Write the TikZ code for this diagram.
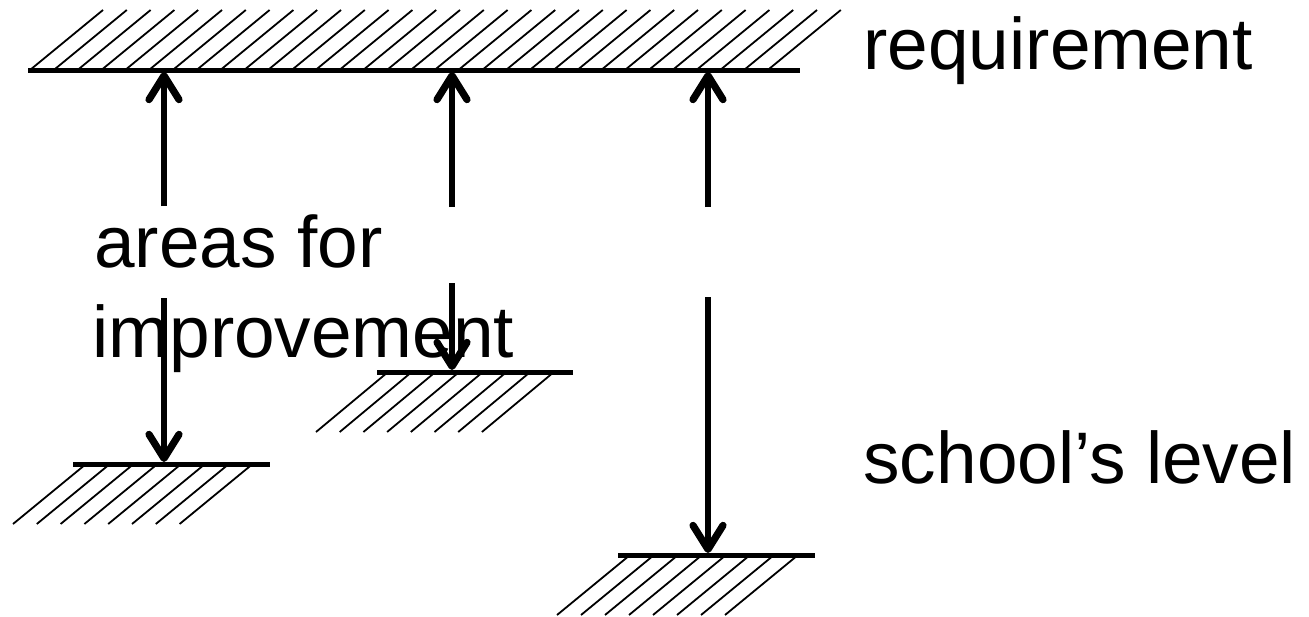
\documentclass[tikz,border=0pt]{standalone}
\usepackage{fontspec}
\setmainfont{Liberation Sans}
\usetikzlibrary{arrows.meta}

\tikzset{
  level/.style={line width=2.5pt},
  hatch/.style={line width=0.9pt},
  gauge/.style={line width=2.6pt, -{Straight Barb[length=12pt,width=15pt,round,line width=3.6pt 0 1]}},
  caption/.style={inner sep=0pt, anchor=base west, font=\fontsize{36.5pt}{45pt}\selectfont}
}

\begin{document}
\begin{tikzpicture}[x=0.5pt, y=-0.5pt]
  \useasboundingbox (0,0) rectangle (1309,616);

  % required level: long line with hatching above it
  \coordinate (reqL) at (28,70);
  \coordinate (reqR) at (800,70);
  \draw[level] (reqL) -- (reqR);
  \foreach \k in {0,...,31}
    \draw[hatch] (30+23.8*\k,70) -- ++(73,-60);

  % three school levels: short lines with hatching below them
  \coordinate (lvAL) at (73,464);  \coordinate (lvAR) at (270,464);
  \coordinate (lvBL) at (377,372); \coordinate (lvBR) at (573,372);
  \coordinate (lvCL) at (618,555); \coordinate (lvCR) at (815,555);
  \draw[level] (lvAL) -- (lvAR);
  \draw[level] (lvBL) -- (lvBR);
  \draw[level] (lvCL) -- (lvCR);
  \foreach \k in {0,...,7} {
    \draw[hatch] (86+23.8*\k,464)  -- ++(-73,60);
    \draw[hatch] (388+23.7*\k,372) -- ++(-72,60);
    \draw[hatch] (630+24*\k,555)   -- ++(-73,60);
  }

  % gap arrows: one part up to the requirement, one part down to the level
  \coordinate (upA) at (164,72);   \coordinate (gapAt) at (164,206);
  \coordinate (gapAb) at (164,298); \coordinate (dnA) at (164,462);
  \coordinate (upB) at (452,72);   \coordinate (gapBt) at (452,207);
  \coordinate (gapBb) at (452,283); \coordinate (dnB) at (452,370);
  \coordinate (upC) at (708,72);   \coordinate (gapCt) at (708,207);
  \coordinate (gapCb) at (708,297); \coordinate (dnC) at (708,553);
  \draw[gauge] (gapAt) -- (upA);
  \draw[gauge] (gapAb) -- (dnA);
  \draw[gauge] (gapBt) -- (upB);
  \draw[gauge] (gapBb) -- (dnB);
  \draw[gauge] (gapCt) -- (upC);
  \draw[gauge] (gapCb) -- (dnC);

  % labels
  \node[caption] (req) at (863,69) {requirement};
  \node[caption] (lvl) at (863,483) {school’s level};
  \node[caption] (gap1) at (94,267) {areas for};
  \node[caption] (gap2) at (92,357) {improvement};
\end{tikzpicture}
\end{document}
